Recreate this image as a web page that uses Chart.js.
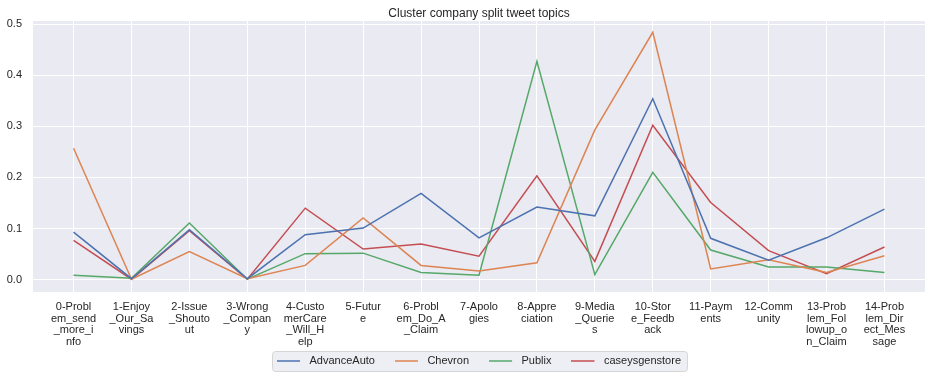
<!DOCTYPE html>
<html>
<head>
<meta charset="utf-8">
<script src="https://cdn.jsdelivr.net/npm/chart.js@4.4.0/dist/chart.umd.min.js"></script>
<style>
  html, body { margin: 0; padding: 0; background: #fff; }
  #wrap { width: 938px; height: 378px; }
</style>
</head>
<body>
<div id="wrap"><canvas id="chart" width="938" height="378"></canvas></div>
<script>
// topic categories (x axis)
const topics = [
  "0-Problem_send_more_info", "1-Enjoy_Our_Savings", "2-Issue_Shoutout",
  "3-Wrong_Company", "4-CustomerCare_Will_Help", "5-Future",
  "6-Problem_Do_A_Claim", "7-Apologies", "8-Appreciation",
  "9-Media_Queries", "10-Store_Feedback", "11-Payments",
  "12-Community", "13-Problem_Followup_on_Claim", "14-Problem_Direct_Message"
];

// share of tweets per topic, one array per company
const advanceAuto = [0.093, 0.002, 0.098, 0.002, 0.088, 0.101, 0.169, 0.082, 0.142, 0.125, 0.354, 0.081, 0.038, 0.082, 0.138];
const chevron     = [0.257, 0.001, 0.055, 0.002, 0.028, 0.121, 0.028, 0.017, 0.033, 0.293, 0.484, 0.021, 0.039, 0.014, 0.047];
const publix      = [0.009, 0.003, 0.111, 0.001, 0.051, 0.052, 0.014, 0.009, 0.427, 0.010, 0.210, 0.058, 0.025, 0.025, 0.014];
const caseys      = [0.077, 0.001, 0.096, 0.001, 0.140, 0.060, 0.070, 0.046, 0.203, 0.036, 0.302, 0.151, 0.057, 0.012, 0.064];

const yTicks = [0.0, 0.1, 0.2, 0.3, 0.4, 0.5];

const TEXT = "#262626";
const FONT = "'Liberation Sans', Arial, sans-serif";

// matplotlib wrapped the long names every 7 characters
function wrapLabel(s) {
  const out = [];
  for (let i = 0; i < s.length; i += 7) out.push(s.slice(i, i + 7));
  return out;
}

// legend swatch: a 23px line with blank room after it
function swatch(color) {
  const c = document.createElement("canvas");
  c.width = 27; c.height = 4;
  const g = c.getContext("2d");
  g.strokeStyle = color;
  g.lineWidth = 1.5;
  g.beginPath();
  g.moveTo(0, 2);
  g.lineTo(23, 2);
  g.stroke();
  return c;
}

const bgPlugin = {
  id: "bg",
  beforeDraw(chart) {
    const { ctx, chartArea: a } = chart;
    ctx.save();
    ctx.fillStyle = "#EAEAF2";
    ctx.fillRect(a.left, a.top, a.right - a.left, a.bottom - a.top);

    // legend frame
    const boxes = chart.legend.legendHitBoxes;
    if (boxes && boxes.length) {
      const l = Math.min(...boxes.map(b => b.left)) - 5;
      const r = Math.max(...boxes.map(b => b.left + b.width)) + 6;
      const cy = boxes[0].top + boxes[0].height / 2;
      ctx.beginPath();
      ctx.roundRect(l + 0.5, cy - 10 + 0.5, r - l, 20, 3);
      ctx.fillStyle = "#EEEEF5";
      ctx.fill();
      ctx.strokeStyle = "#D6D6D6";
      ctx.lineWidth = 1;
      ctx.stroke();
    }
    ctx.restore();
  }
};

const mkSet = (label, data, color) => ({
  label, data,
  borderColor: color,
  backgroundColor: color,
  borderWidth: 1.5,
  pointRadius: 0,
  tension: 0,
  fill: false
});

new Chart(document.getElementById("chart"), {
  type: "line",
  data: {
    labels: topics.map((_, i) => i),
    datasets: [
      mkSet("AdvanceAuto", advanceAuto, "#4C72B0"),
      mkSet("Chevron", chevron, "#DD8452"),
      mkSet("Publix", publix, "#55A868"),
      mkSet("caseysgenstore", caseys, "#C44E52")
    ]
  },
  options: {
    responsive: false,
    devicePixelRatio: 1,
    animation: false,
    layout: { padding: { left: 0, right: 13, top: 0, bottom: 1.5 } },
    plugins: {
      title: {
        display: true,
        text: "Cluster company split tweet topics",
        color: TEXT,
        fullSize: false,
        font: { family: FONT, size: 12, weight: "normal" },
        padding: { top: 6, bottom: 0.6 }
      },
      legend: {
        position: "bottom",
        fullSize: false,
        labels: {
          color: TEXT,
          font: { family: FONT, size: 11 },
          usePointStyle: true,
          pointStyleWidth: 27,
          padding: 20,
          generateLabels(chart) {
            const items = Chart.defaults.plugins.legend.labels.generateLabels(chart);
            items.forEach(it => { it.pointStyle = swatch(it.strokeStyle); });
            return items;
          }
        }
      },
      tooltip: { enabled: false }
    },
    scales: {
      x: {
        type: "linear",
        min: -0.7,
        max: 14.7,
        afterFit(s) {
          s.height = 43.5;
          // let the 4-line labels run past the axis box instead of being clipped
          s._computeLabelArea = () => undefined;
        },
        border: { display: false },
        grid: { color: "#FFFFFF", lineWidth: 1, drawTicks: false },
        ticks: {
          stepSize: 1,
          includeBounds: false,
          autoSkip: false,
          maxRotation: 0,
          padding: 9,
          color: TEXT,
          font: { family: FONT, size: 11, lineHeight: 1.07 },
          callback: v => (Number.isInteger(v) && topics[v]) ? wrapLabel(topics[v]) : ""
        }
      },
      y: {
        min: -0.024,
        max: 0.506,
        afterFit(s) { s.width = 33; },
        afterBuildTicks(s) { s.ticks = yTicks.map(v => ({ value: v })); },
        border: { display: false },
        grid: { color: "#FFFFFF", lineWidth: 1, drawTicks: false },
        ticks: {
          padding: 11,
          color: TEXT,
          font: { family: FONT, size: 11 },
          callback: v => v.toFixed(1)
        }
      }
    }
  },
  plugins: [bgPlugin]
});
</script>
</body>
</html>
